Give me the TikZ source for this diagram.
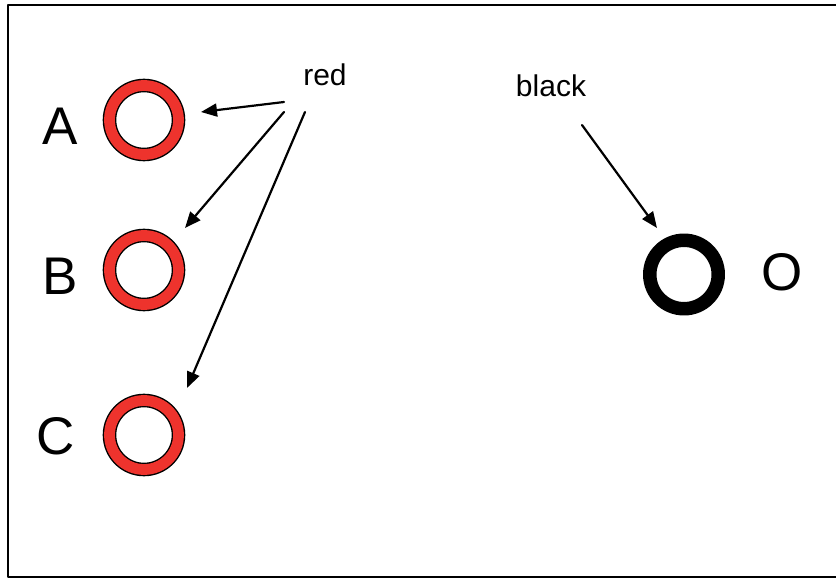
\documentclass[tikz,border=0pt]{standalone}
\usepackage{fontspec}
\setmainfont{Liberation Sans}
\usetikzlibrary{arrows.meta}
\definecolor{ringred}{RGB}{238,51,45}
\tikzset{
  redring/.style={circle, draw=black, line width=1.4pt, double=ringred, double distance=10.8pt,
    fill=white, inner sep=0pt, minimum size=69pt},
  blackring/.style={circle, draw=black, line width=13.5pt, fill=white, inner sep=0pt, minimum size=68.5pt},
  letter/.style={font={\fontsize{53pt}{53pt}\selectfont}, inner sep=0pt},
  word/.style={font={\fontsize{30pt}{30pt}\selectfont}, inner sep=0pt},
  arr/.style={-{Triangle[length=16pt,width=13pt]}, line width=2.2pt}
}
\begin{document}
\begin{tikzpicture}[x=1pt, y=-1pt, line join=round, line cap=round]
	\useasboundingbox (0,0) rectangle (836,578);
	% frame, open to the right
	\draw[line width=2pt] (850,5) -- (8,5) -- (8,576.5) -- (850,576.5);
	% rings
	\node[redring] (ringA) at (144,120) {};
	\node[redring] (ringB) at (144,270) {};
	\node[redring] (ringC) at (144,435) {};
	\node[blackring] (ringO) at (684,274.5) {};
	\node[letter] (labA) at (60,126) {A};
	\node[letter] (labB) at (60,276) {B};
	\node[letter] (labC) at (56,436) {C};
	\node[letter] (labO) at (782,272) {O};
	% colour names
	\node[word] (red) at (325,75) {red};
	\node[word] (black) at (551,86) {black};
	\coordinate (redA) at (284,102);
	\coordinate (redB) at (284,112);
	\coordinate (redC) at (305,112);
	\coordinate (blackO) at (582,125);
	\coordinate (tipA) at (201,112);
	\coordinate (tipB) at (185,228);
	\coordinate (tipC) at (187,388);
	\coordinate (tipO) at (657,228);
	\draw[arr] (redA) -- (tipA);
	\draw[arr] (redB) -- (tipB);
	\draw[arr] (redC) -- (tipC);
	\draw[arr] (blackO) -- (tipO);
\end{tikzpicture}
\end{document}
